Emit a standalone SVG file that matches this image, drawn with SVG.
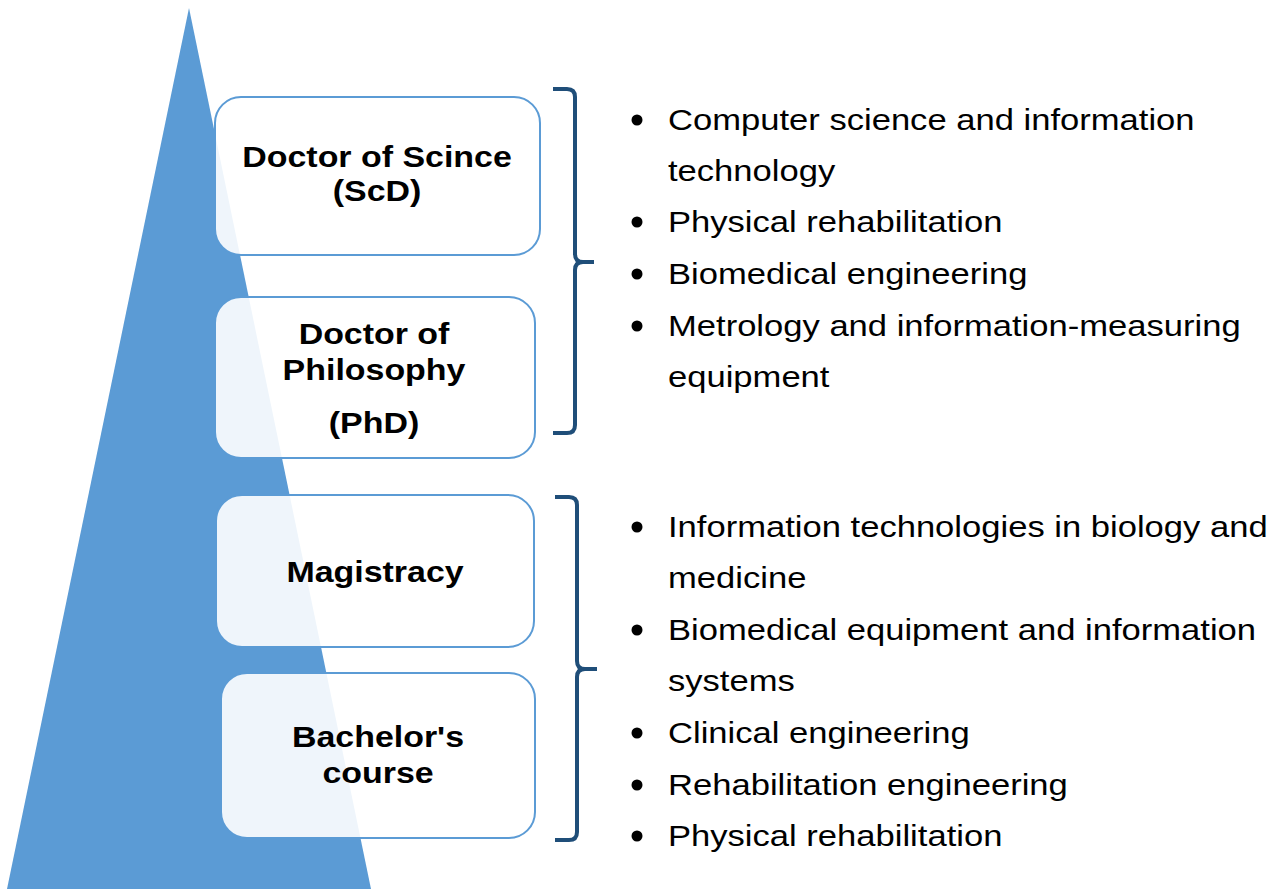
<svg xmlns="http://www.w3.org/2000/svg" width="1282" height="889" viewBox="0 0 1282 889">
<style>
.box{fill:#ffffff;fill-opacity:0.9;stroke:#5B9BD5;stroke-width:2}
.lbl{font-family:"Liberation Sans",Arial,sans-serif;font-weight:bold;font-size:29px;fill:#000;text-anchor:middle}
.item{font-family:"Liberation Sans",Arial,sans-serif;font-size:30px;fill:#000}
.brace{fill:none;stroke:#1F4E79;stroke-width:4;stroke-linejoin:round}
.dot{fill:#000}
</style>
<rect width="1282" height="889" fill="#ffffff"/>
<polygon id="pyramid" points="189,8 371,889 7,889" fill="#5B9BD5"/>
<g id="node-scd">
<rect class="box" x="215" y="97" width="325" height="158" rx="26"/>
<g transform="translate(377,0) scale(1.17,1)"><text class="lbl" x="0" y="167">Doctor of Scince</text><text class="lbl" x="0" y="201">(ScD)</text></g>
</g>
<g id="node-phd">
<rect class="box" x="215" y="297" width="320" height="161" rx="26"/>
<g transform="translate(374,0) scale(1.17,1)"><text class="lbl" x="0" y="344">Doctor of</text><text class="lbl" x="0" y="380">Philosophy</text><text class="lbl" x="0" y="433">(PhD)</text></g>
</g>
<g id="node-magistracy">
<rect class="box" x="216" y="495" width="318" height="152" rx="26"/>
<g transform="translate(375,0) scale(1.17,1)"><text class="lbl" x="0" y="582">Magistracy</text></g>
</g>
<g id="node-bachelor">
<rect class="box" x="221" y="673" width="314" height="165" rx="26"/>
<g transform="translate(378,0) scale(1.17,1)"><text class="lbl" x="0" y="747">Bachelor's</text><text class="lbl" x="0" y="783">course</text></g>
</g>
<g id="connectors">
<path class="brace" d="M553,89 H567 Q575,89 575,97 V254 Q575,262 583,262 H594 M583,262 Q575,262 575,270 V425 Q575,433 567,433 H553"/>
<path class="brace" d="M555,497 H569 Q577,497 577,505 V661 Q577,669 585,669 H597 M585,669 Q577,669 577,677 V832 Q577,840 569,840 H555"/>
</g>
<g id="list-doctoral">
<circle class="dot" cx="637" cy="120" r="5.5"/>
<circle class="dot" cx="637" cy="222" r="5.5"/>
<circle class="dot" cx="637" cy="274" r="5.5"/>
<circle class="dot" cx="637" cy="326" r="5.5"/>
<g transform="translate(668,0) scale(1.153,1)">
<text class="item" x="0" y="130">Computer science and information</text>
<text class="item" x="0" y="181">technology</text>
<text class="item" x="0" y="232">Physical rehabilitation</text>
<text class="item" x="0" y="284">Biomedical engineering</text>
<text class="item" x="0" y="336">Metrology and information-measuring</text>
<text class="item" x="0" y="387">equipment</text>
</g>
</g>
<g id="list-undergrad">
<circle class="dot" cx="637" cy="527" r="5.5"/>
<circle class="dot" cx="637" cy="630" r="5.5"/>
<circle class="dot" cx="637" cy="733" r="5.5"/>
<circle class="dot" cx="637" cy="785" r="5.5"/>
<circle class="dot" cx="637" cy="836" r="5.5"/>
<g transform="translate(668,0) scale(1.153,1)">
<text class="item" x="0" y="537">Information technologies in biology and</text>
<text class="item" x="0" y="588">medicine</text>
<text class="item" x="0" y="640">Biomedical equipment and information</text>
<text class="item" x="0" y="691">systems</text>
<text class="item" x="0" y="743">Clinical engineering</text>
<text class="item" x="0" y="795">Rehabilitation engineering</text>
<text class="item" x="0" y="846">Physical rehabilitation</text>
</g>
</g>
</svg>
